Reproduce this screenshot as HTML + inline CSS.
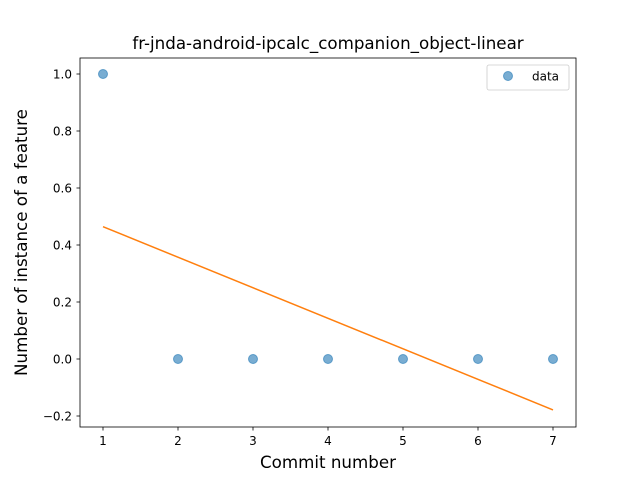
<!DOCTYPE html>
<html><head><meta charset="utf-8"><style>
body{margin:0;background:#fff;}
svg text{font-family:"DejaVu Sans","Liberation Sans",sans-serif;fill:#000;}
</style></head><body>
<svg id="chart" width="640" height="480" xmlns="http://www.w3.org/2000/svg">
<rect width="640" height="480" fill="#fff"/>
<text x="328" y="49" font-size="16.7" text-anchor="middle">fr-jnda-android-ipcalc_companion_object-linear</text>
<g id="plot"></g>
<rect x="80" y="58" width="496" height="369" fill="none" stroke="#000" stroke-width="0.8"/>
<text x="328" y="468" font-size="16.7" text-anchor="middle">Commit number</text>
<text transform="translate(27,242.5) rotate(-90)" font-size="16.7" text-anchor="middle">Number of instance of a feature</text>
<g>
<rect x="487" y="65" width="82" height="25" rx="2" fill="#fff" stroke="#ccc" stroke-width="0.8"/>
<circle cx="508" cy="76" r="4.5" fill="#1f77b4" fill-opacity="0.6" stroke="#1f77b4" stroke-opacity="0.6"/>
<text x="532" y="80.5" font-size="12">data</text>
</g>
</svg>
<script>
const xs=[1,2,3,4,5,6,7];
const ys=[1,0,0,0,0,0,0];
const fitY=[0.4643,-0.1786];
const xTicks=[1,2,3,4,5,6,7];
const yTicks=[-0.2,0.0,0.2,0.4,0.6,0.8,1.0];
const X=v=>103+(v-1)*75;
const Y=v=>359-v*285;
const g=document.getElementById('plot');
const NS='http://www.w3.org/2000/svg';
function mk(t,a){const e=document.createElementNS(NS,t);for(const k in a)e.setAttribute(k,a[k]);g.appendChild(e);return e;}
xTicks.forEach(v=>{
 const l=mk('line',{x1:X(v),x2:X(v),y1:427,y2:430.5,stroke:'#000','stroke-width':0.8});
 
 
 const t=mk('text',{x:X(v),y:445,'font-size':12,'text-anchor':'middle'});t.textContent=v;
 
 
});
yTicks.forEach(v=>{
 const l=mk('line',{x1:76.5,x2:80,y1:Y(v),y2:Y(v),stroke:'#000','stroke-width':0.8});
 
 
 const t=mk('text',{x:72,y:Y(v)+4.5,'font-size':12,'text-anchor':'end'});t.textContent=(v<0?'\u2212':'')+Math.abs(v).toFixed(1);
 
 
});
const ln=mk('line',{x1:X(xs[0]),y1:Y(fitY[0]),x2:X(xs[xs.length-1]),y2:Y(fitY[1]),stroke:'#ff7f0e','stroke-width':1.5});


xs.forEach((x,i)=>{
 const c=mk('circle',{cx:X(x),cy:Y(ys[i]),r:4.5,fill:'#1f77b4','fill-opacity':0.6,stroke:'#1f77b4','stroke-opacity':0.6});
 
 
});
</script>
</body></html>
